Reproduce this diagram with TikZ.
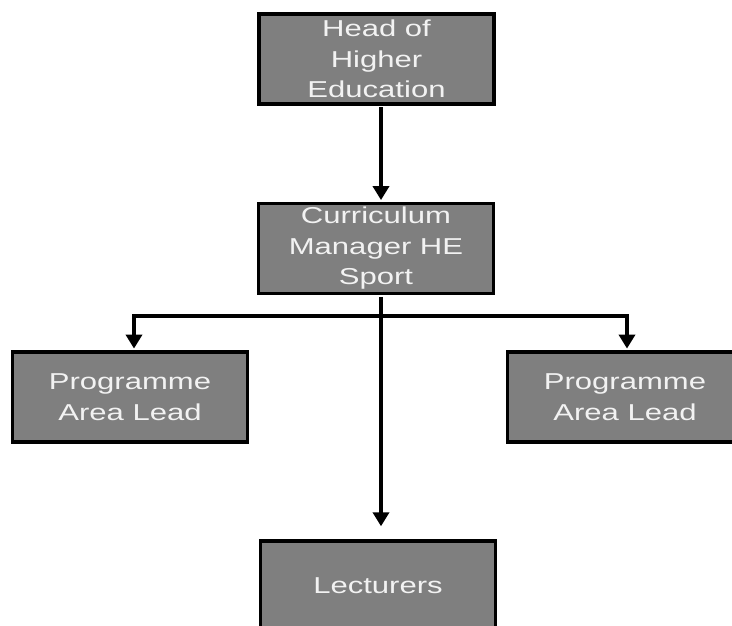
\documentclass[tikz,border=0pt]{standalone}
\usepackage{fontspec}
\setmainfont{Liberation Sans}[FakeStretch=1.35]
\usetikzlibrary{arrows.meta,calc}
\definecolor{boxgray}{HTML}{7F7F7F}
\definecolor{txt}{HTML}{F2F2F2}
\tikzset{
  orgbox/.style={draw=black, line width=3.4pt, fill=boxgray, rectangle,
    minimum width=235pt, minimum height=90pt, inner sep=0pt,
    text=txt, align=center, font=\fontsize{23}{30.5}\selectfont},
  conn/.style={line width=3.6pt, draw=black},
  arr/.style={conn, -{Triangle[length=14pt,width=16pt]}},
}
\begin{document}
\begin{tikzpicture}[x=1pt,y=1pt]
\useasboundingbox (0,0) rectangle (732,-626);
\clip (0,0) rectangle (732,-626);
\fill[white] (0,0) rectangle (732,-626);
\node[orgbox] (head) at (376.5,-59) {Head of\\Higher\\Education};
\node[orgbox] (cur) at (376,-248.5) {Curriculum\\Manager HE\\Sport};
\node[orgbox] (pl) at (130,-397) {Programme\\Area Lead};
\node[orgbox] (pr) at (625,-397) {Programme\\Area Lead};
\node[orgbox] (lec) at (378,-586) {Lecturers};
\coordinate (bar) at (0,-316);
\draw[arr] ($(head.south)+(4.5,-1.7)$) -- ($(cur.north)+(5,1.7)$);
\draw[arr] ($(cur.south)+(5,-1.7)$) -- ($(lec.north)+(3,13)$);
\draw[arr] (bar -| {$(cur.south)+(5,0)$}) -- (bar -| {$(pl.north)+(4,0)$}) -- ($(pl.north)+(4,1.7)$);
\draw[arr] (bar -| {$(cur.south)+(5,0)$}) -- (bar -| {$(pr.north)+(2,0)$}) -- ($(pr.north)+(2,1.7)$);
\end{tikzpicture}
\end{document}
